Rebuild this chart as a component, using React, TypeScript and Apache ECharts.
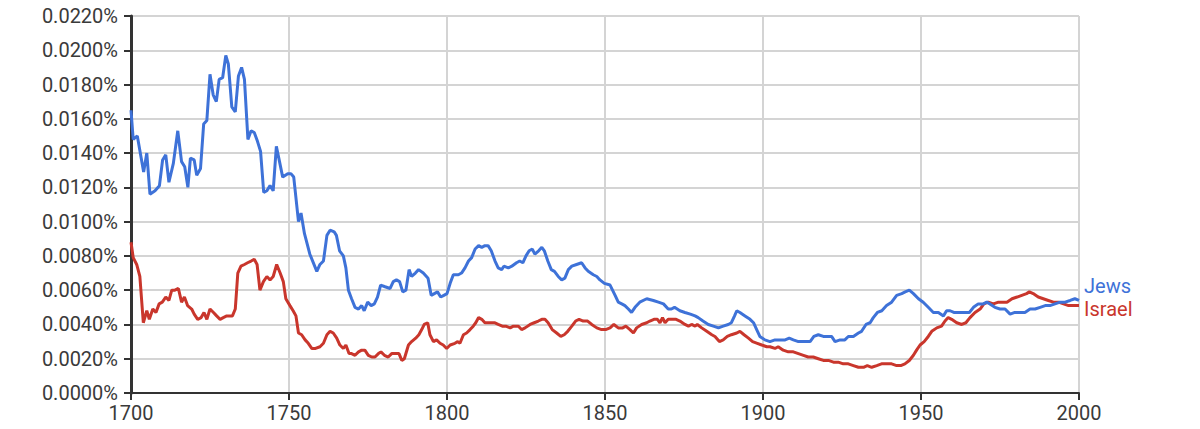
import React, { useEffect, useRef } from "react";
import * as echarts from "echarts";

// Jews — [year, percent]
const jewsYears = [
  1700, 1700.7, 1702, 1704, 1705, 1706, 1707.6, 1709, 1710, 1711, 1712, 1713.4, 1714.8, 1716, 1717, 1718, 1718.8, 1720, 1720.8, 1722,
  1723, 1724, 1725, 1726, 1727, 1727.9, 1729, 1730, 1730.8, 1731.9, 1733, 1734, 1735, 1735.9, 1737, 1738, 1739, 1740, 1741, 1742,
  1743, 1744, 1745, 1746, 1747, 1748, 1749.6, 1750.6, 1751.5, 1753, 1753.8, 1754.9, 1756.6, 1758.8, 1759.8, 1760.9, 1762, 1763, 1764.3, 1765,
  1766, 1767.2, 1768, 1768.8, 1769.8, 1770.9, 1772, 1773, 1773.8, 1774.9, 1776, 1777, 1778, 1779, 1780.4, 1782, 1783, 1784, 1785, 1786,
  1787, 1788, 1788.8, 1790, 1791, 1792.5, 1794, 1795, 1796, 1797, 1798, 1799, 1800, 1801, 1802, 1803.6, 1804.6, 1805.7, 1806.8, 1807.8,
  1808.9, 1810, 1811, 1812, 1813, 1814, 1815.2, 1816.2, 1817.3, 1818, 1819.4, 1820.5, 1822, 1823, 1824, 1825, 1826, 1827, 1827.8, 1829,
  1830, 1830.8, 1831.9, 1833, 1834, 1835.2, 1836.3, 1837.3, 1838.4, 1839.5, 1841, 1842.6, 1843.7, 1844.7, 1846.3, 1847.4, 1848.4, 1849.8, 1851.6, 1853.2,
  1854.2, 1855.3, 1856.3, 1857.4, 1858.4, 1859.5, 1861, 1863.2, 1865.3, 1866.9, 1868.5, 1870, 1871, 1872, 1873.7, 1875.3, 1877, 1878.5, 1879.5, 1881,
  1882.7, 1884.3, 1885.9, 1887.4, 1889, 1890, 1891, 1891.7, 1892.7, 1894.3, 1895.9, 1897, 1898, 1899, 1900.6, 1902.2, 1903.8, 1905.4, 1907, 1908.3,
  1909.6, 1911.2, 1912.2, 1913.6, 1914.9, 1916.1, 1917.5, 1919.1, 1920.7, 1921.7, 1922.8, 1924.4, 1925.9, 1927, 1928.6, 1930.2, 1931.2, 1932.6, 1933.9, 1934.9,
  1936.2, 1937.6, 1939.1, 1940.7, 1942.3, 1943.9, 1945, 1946.3, 1947.6, 1949.2, 1950.7, 1952.3, 1953.9, 1955.5, 1957.1, 1958.1, 1959.2, 1960.4, 1962.3, 1963.9,
  1965.3, 1966.6, 1968.1, 1969.7, 1970.8, 1971.8, 1973.4, 1975, 1976.6, 1978.2, 1979.7, 1981.3, 1982.9, 1984.5, 1986.1, 1987.7, 1989.3, 1990.8, 1992.4, 1994,
  1995.6, 1997.2, 1998.7, 2000,
];
const jewsValues = [
  0.0165, 0.0148, 0.0150, 0.0129, 0.0140, 0.0116, 0.0118, 0.0121, 0.0136, 0.0139, 0.0123, 0.0134, 0.0153, 0.0135, 0.0132, 0.0120, 0.0137, 0.0136, 0.0127, 0.0131,
  0.0157, 0.0159, 0.0186, 0.0174, 0.0170, 0.0183, 0.0184, 0.0197, 0.0192, 0.0167, 0.0164, 0.0185, 0.0190, 0.0183, 0.0148, 0.0153, 0.0152, 0.0147, 0.0141, 0.0117,
  0.0118, 0.0121, 0.0118, 0.0144, 0.0135, 0.0126, 0.0128, 0.0128, 0.0126, 0.0100, 0.0105, 0.0093, 0.0081, 0.0071, 0.0075, 0.0077, 0.0092, 0.0095, 0.0094, 0.0092,
  0.0083, 0.0080, 0.0073, 0.0060, 0.0055, 0.0050, 0.0049, 0.0051, 0.0048, 0.0053, 0.0051, 0.0052, 0.0056, 0.0063, 0.0062, 0.0061, 0.0065, 0.0066, 0.0065, 0.0059,
  0.0060, 0.0072, 0.0068, 0.0070, 0.0072, 0.0070, 0.0067, 0.0057, 0.0058, 0.0059, 0.0056, 0.0057, 0.0058, 0.0064, 0.0069, 0.0069, 0.0070, 0.0073, 0.0077, 0.0079,
  0.0084, 0.0086, 0.0085, 0.0086, 0.0086, 0.0083, 0.0077, 0.0073, 0.0072, 0.0074, 0.0073, 0.0074, 0.0076, 0.0077, 0.0076, 0.0080, 0.0083, 0.0084, 0.0081, 0.0083,
  0.0085, 0.0083, 0.0077, 0.0072, 0.0071, 0.0068, 0.0066, 0.0067, 0.0072, 0.0074, 0.0075, 0.0076, 0.0073, 0.0071, 0.0069, 0.0068, 0.0066, 0.0064, 0.0063, 0.0057,
  0.0053, 0.0052, 0.0051, 0.0049, 0.0047, 0.0050, 0.0053, 0.0055, 0.0054, 0.0053, 0.0052, 0.0049, 0.0049, 0.0050, 0.0048, 0.0047, 0.0046, 0.0045, 0.0044, 0.0042,
  0.0040, 0.0039, 0.0038, 0.0039, 0.0040, 0.0041, 0.0045, 0.0048, 0.0047, 0.0045, 0.0043, 0.0041, 0.0037, 0.0033, 0.0031, 0.0030, 0.0031, 0.0031, 0.0031, 0.0032,
  0.0031, 0.0030, 0.0030, 0.0030, 0.0030, 0.0033, 0.0034, 0.0033, 0.0033, 0.0033, 0.0030, 0.0031, 0.0031, 0.0033, 0.0033, 0.0035, 0.0036, 0.0040, 0.0041, 0.0044,
  0.0047, 0.0048, 0.0051, 0.0053, 0.0057, 0.0058, 0.0059, 0.0060, 0.0058, 0.0055, 0.0053, 0.0050, 0.0047, 0.0047, 0.0045, 0.0048, 0.0048, 0.0047, 0.0047, 0.0047,
  0.0047, 0.0050, 0.0052, 0.0052, 0.0053, 0.0052, 0.0050, 0.0049, 0.0049, 0.0046, 0.0047, 0.0047, 0.0047, 0.0049, 0.0049, 0.0050, 0.0051, 0.0051, 0.0052, 0.0053,
  0.0053, 0.0054, 0.0055, 0.0054,
];

// Israel — [year, percent]
const israelYears = [
  1700, 1700.7, 1701.8, 1702.8, 1703.9, 1705, 1705.8, 1706.9, 1707.9, 1708.9, 1709.9, 1711, 1712, 1712.9, 1713.9, 1715, 1716, 1716.9, 1717.9, 1719.2,
  1720, 1721.1, 1722.2, 1723.1, 1724, 1725, 1726.1, 1727.1, 1728.2, 1729.2, 1730.3, 1731.3, 1732.1, 1733, 1733.8, 1734.8, 1735.9, 1736.9, 1738, 1739,
  1739.9, 1740.8, 1741.9, 1743, 1744, 1745, 1746.1, 1747.2, 1748.2, 1749, 1750.3, 1751.3, 1752.2, 1753, 1754, 1755.1, 1756.1, 1757.2, 1758.4, 1759.8,
  1760.9, 1762, 1763, 1764, 1765.1, 1766.1, 1767.2, 1768, 1769, 1769.8, 1770.9, 1772, 1773, 1774, 1775.1, 1776.2, 1777.2, 1778.3, 1779.1, 1780.2,
  1781.4, 1782.5, 1783.5, 1784.8, 1785.7, 1786.5, 1787.8, 1788.8, 1790.1, 1791.1, 1792, 1792.8, 1793.9, 1794.6, 1795.7, 1796.7, 1797.8, 1798.8, 1799.9, 1801,
  1802.5, 1803.4, 1804.1, 1805.2, 1806.2, 1807.3, 1808.3, 1809.1, 1810, 1811, 1812, 1813.6, 1815, 1816.2, 1817.5, 1818.6, 1820, 1821, 1822.6, 1823.6,
  1824.7, 1826.3, 1827.6, 1828.9, 1830, 1831, 1832, 1833.3, 1834.7, 1836, 1837.1, 1838.2, 1839.5, 1840.7, 1841.8, 1843.1, 1844.5, 1845.8, 1847.4, 1848.9,
  1850.2, 1851.6, 1852.8, 1854.2, 1855.6, 1856.6, 1857.9, 1859, 1860, 1861.6, 1863.2, 1864.2, 1865.5, 1866.6, 1867.4, 1868.2, 1869, 1870, 1871, 1872.5,
  1873.7, 1875.3, 1876.4, 1877.4, 1878.5, 1879.2, 1880.6, 1882.2, 1883.8, 1884.8, 1886.2, 1887.4, 1888.7, 1890, 1891.7, 1892.7, 1894, 1895.4, 1896.7, 1898.2,
  1899.6, 1901.2, 1902.2, 1903.8, 1904.8, 1906.4, 1908, 1909.6, 1911.2, 1912.8, 1914.3, 1915.9, 1917.5, 1919.1, 1920.7, 1922.3, 1923.8, 1925.4, 1927, 1928.6,
  1930.2, 1931.8, 1933, 1934.4, 1936, 1937.5, 1939.1, 1940.7, 1942.3, 1943.6, 1944.9, 1946.3, 1947.6, 1948.6, 1949.7, 1951, 1952.3, 1953.4, 1955, 1956.5,
  1957.6, 1958.6, 1959.7, 1961.3, 1962.9, 1964.2, 1965.5, 1967.1, 1968.7, 1969.9, 1971.3, 1972.9, 1974.5, 1976.1, 1977.2, 1978.8, 1980.4, 1981.9, 1983.4, 1984.3,
  1985.5, 1987.1, 1988.7, 1990.3, 1991.9, 1993.5, 1995.1, 1996.7, 1998.3, 2000,
];
const israelValues = [
  0.0088, 0.0079, 0.0075, 0.0068, 0.0041, 0.0048, 0.0043, 0.0049, 0.0047, 0.0052, 0.0053, 0.0056, 0.0054, 0.0060, 0.0060, 0.0061, 0.0053, 0.0056, 0.0051, 0.0049,
  0.0046, 0.0043, 0.0044, 0.0047, 0.0043, 0.0049, 0.0047, 0.0045, 0.0043, 0.0044, 0.0045, 0.0045, 0.0045, 0.0049, 0.0070, 0.0074, 0.0075, 0.0076, 0.0077, 0.0078,
  0.0075, 0.0060, 0.0065, 0.0068, 0.0066, 0.0068, 0.0075, 0.0070, 0.0065, 0.0055, 0.0051, 0.0048, 0.0045, 0.0035, 0.0034, 0.0031, 0.0029, 0.0026, 0.0026, 0.0027,
  0.0029, 0.0034, 0.0036, 0.0035, 0.0032, 0.0028, 0.0026, 0.0028, 0.0023, 0.0023, 0.0022, 0.0024, 0.0025, 0.0025, 0.0022, 0.0021, 0.0021, 0.0023, 0.0024, 0.0022,
  0.0021, 0.0023, 0.0023, 0.0023, 0.0019, 0.0020, 0.0028, 0.0030, 0.0032, 0.0034, 0.0037, 0.0040, 0.0041, 0.0034, 0.0030, 0.0031, 0.0029, 0.0028, 0.0026, 0.0028,
  0.0029, 0.0030, 0.0029, 0.0034, 0.0035, 0.0037, 0.0039, 0.0041, 0.0044, 0.0043, 0.0041, 0.0041, 0.0041, 0.0040, 0.0039, 0.0039, 0.0038, 0.0039, 0.0039, 0.0037,
  0.0038, 0.0040, 0.0041, 0.0042, 0.0043, 0.0043, 0.0041, 0.0037, 0.0035, 0.0033, 0.0034, 0.0036, 0.0039, 0.0042, 0.0043, 0.0042, 0.0042, 0.0040, 0.0038, 0.0037,
  0.0037, 0.0038, 0.0040, 0.0038, 0.0038, 0.0039, 0.0037, 0.0035, 0.0038, 0.0040, 0.0041, 0.0042, 0.0043, 0.0043, 0.0041, 0.0044, 0.0041, 0.0043, 0.0043, 0.0043,
  0.0042, 0.0040, 0.0039, 0.0040, 0.0039, 0.0040, 0.0038, 0.0036, 0.0034, 0.0033, 0.0030, 0.0031, 0.0033, 0.0034, 0.0035, 0.0036, 0.0034, 0.0032, 0.0030, 0.0029,
  0.0028, 0.0027, 0.0027, 0.0026, 0.0027, 0.0025, 0.0024, 0.0024, 0.0023, 0.0022, 0.0021, 0.0021, 0.0020, 0.0019, 0.0019, 0.0018, 0.0018, 0.0017, 0.0017, 0.0016,
  0.0015, 0.0015, 0.0016, 0.0015, 0.0016, 0.0017, 0.0017, 0.0017, 0.0016, 0.0016, 0.0017, 0.0019, 0.0022, 0.0025, 0.0028, 0.0030, 0.0033, 0.0036, 0.0038, 0.0039,
  0.0042, 0.0044, 0.0043, 0.0041, 0.0040, 0.0041, 0.0044, 0.0047, 0.0049, 0.0052, 0.0053, 0.0052, 0.0053, 0.0053, 0.0053, 0.0055, 0.0056, 0.0057, 0.0058, 0.0059,
  0.0058, 0.0056, 0.0055, 0.0054, 0.0053, 0.0053, 0.0052, 0.0051, 0.0051, 0.0051,
];

const xTicks = { min: 1700, max: 2000, interval: 50 };
const yTicks = { min: 0, max: 0.022, interval: 0.002 };

const BLUE = "#3e72d8";
const RED = "#c9362c";
const FONT = "Roboto";

export default function App() {
  const ref = useRef<HTMLDivElement>(null);
  useEffect(() => {
    if (!ref.current) return;
    const chart = echarts.init(ref.current, undefined, { renderer: "svg" });
    const jews = jewsYears.map((y, i) => [y, jewsValues[i]]);
    const israel = israelYears.map((y, i) => [y, israelValues[i]]);
    chart.setOption({
      animation: false,
      backgroundColor: "#ffffff",
      grid: { left: 131, right: 121, top: 16, bottom: 36, containLabel: false },
      xAxis: {
        type: "value",
        min: xTicks.min,
        max: xTicks.max,
        interval: xTicks.interval,
        axisLine: { show: true, lineStyle: { color: "#333333", width: 2 } },
        axisTick: { show: true, length: 7, lineStyle: { color: "#333333", width: 2 } },
        axisLabel: {
          color: "#3a3a3a",
          fontSize: 20,
          fontFamily: FONT,
          margin: 10,
          formatter: (v: number) => String(v),
        },
        splitLine: { show: true, lineStyle: { color: "#d4d4d4", width: 2 } },
      },
      yAxis: {
        type: "value",
        min: yTicks.min,
        max: yTicks.max,
        interval: yTicks.interval,
        axisLine: { show: true, lineStyle: { color: "#333333", width: 3 } },
        axisTick: { show: true, length: 7, lineStyle: { color: "#333333", width: 2 } },
        axisLabel: {
          color: "#3a3a3a",
          fontSize: 20,
          fontFamily: FONT,
          margin: 13,
          formatter: (v: number) => v.toFixed(4) + "%",
        },
        splitLine: { show: true, lineStyle: { color: "#d4d4d4", width: 2 } },
      },
      series: [
        {
          name: "Israel",
          type: "line",
          data: israel,
          showSymbol: false,
          symbol: "none",
          lineStyle: { color: RED, width: 3 },
          itemStyle: { color: RED },
          endLabel: {
            show: true,
            formatter: "{a}",
            color: RED,
            fontSize: 20,
            lineHeight: 20,
            fontFamily: FONT,
            distance: 5,
            offset: [0, 3],
          },
          z: 2,
        },
        {
          name: "Jews",
          type: "line",
          data: jews,
          showSymbol: false,
          symbol: "none",
          lineStyle: { color: BLUE, width: 3 },
          itemStyle: { color: BLUE },
          endLabel: {
            show: true,
            formatter: "{a}",
            color: BLUE,
            fontSize: 20,
            lineHeight: 20,
            fontFamily: FONT,
            distance: 5,
            offset: [0, -14],
          },
          z: 3,
        },
      ],
    });
    return () => chart.dispose();
  }, []);
  return (
    <div
      ref={ref}
      style={{ position: "fixed", left: 0, top: 0, width: 1200, height: 429, background: "#fff" }}
    />
  );
}
